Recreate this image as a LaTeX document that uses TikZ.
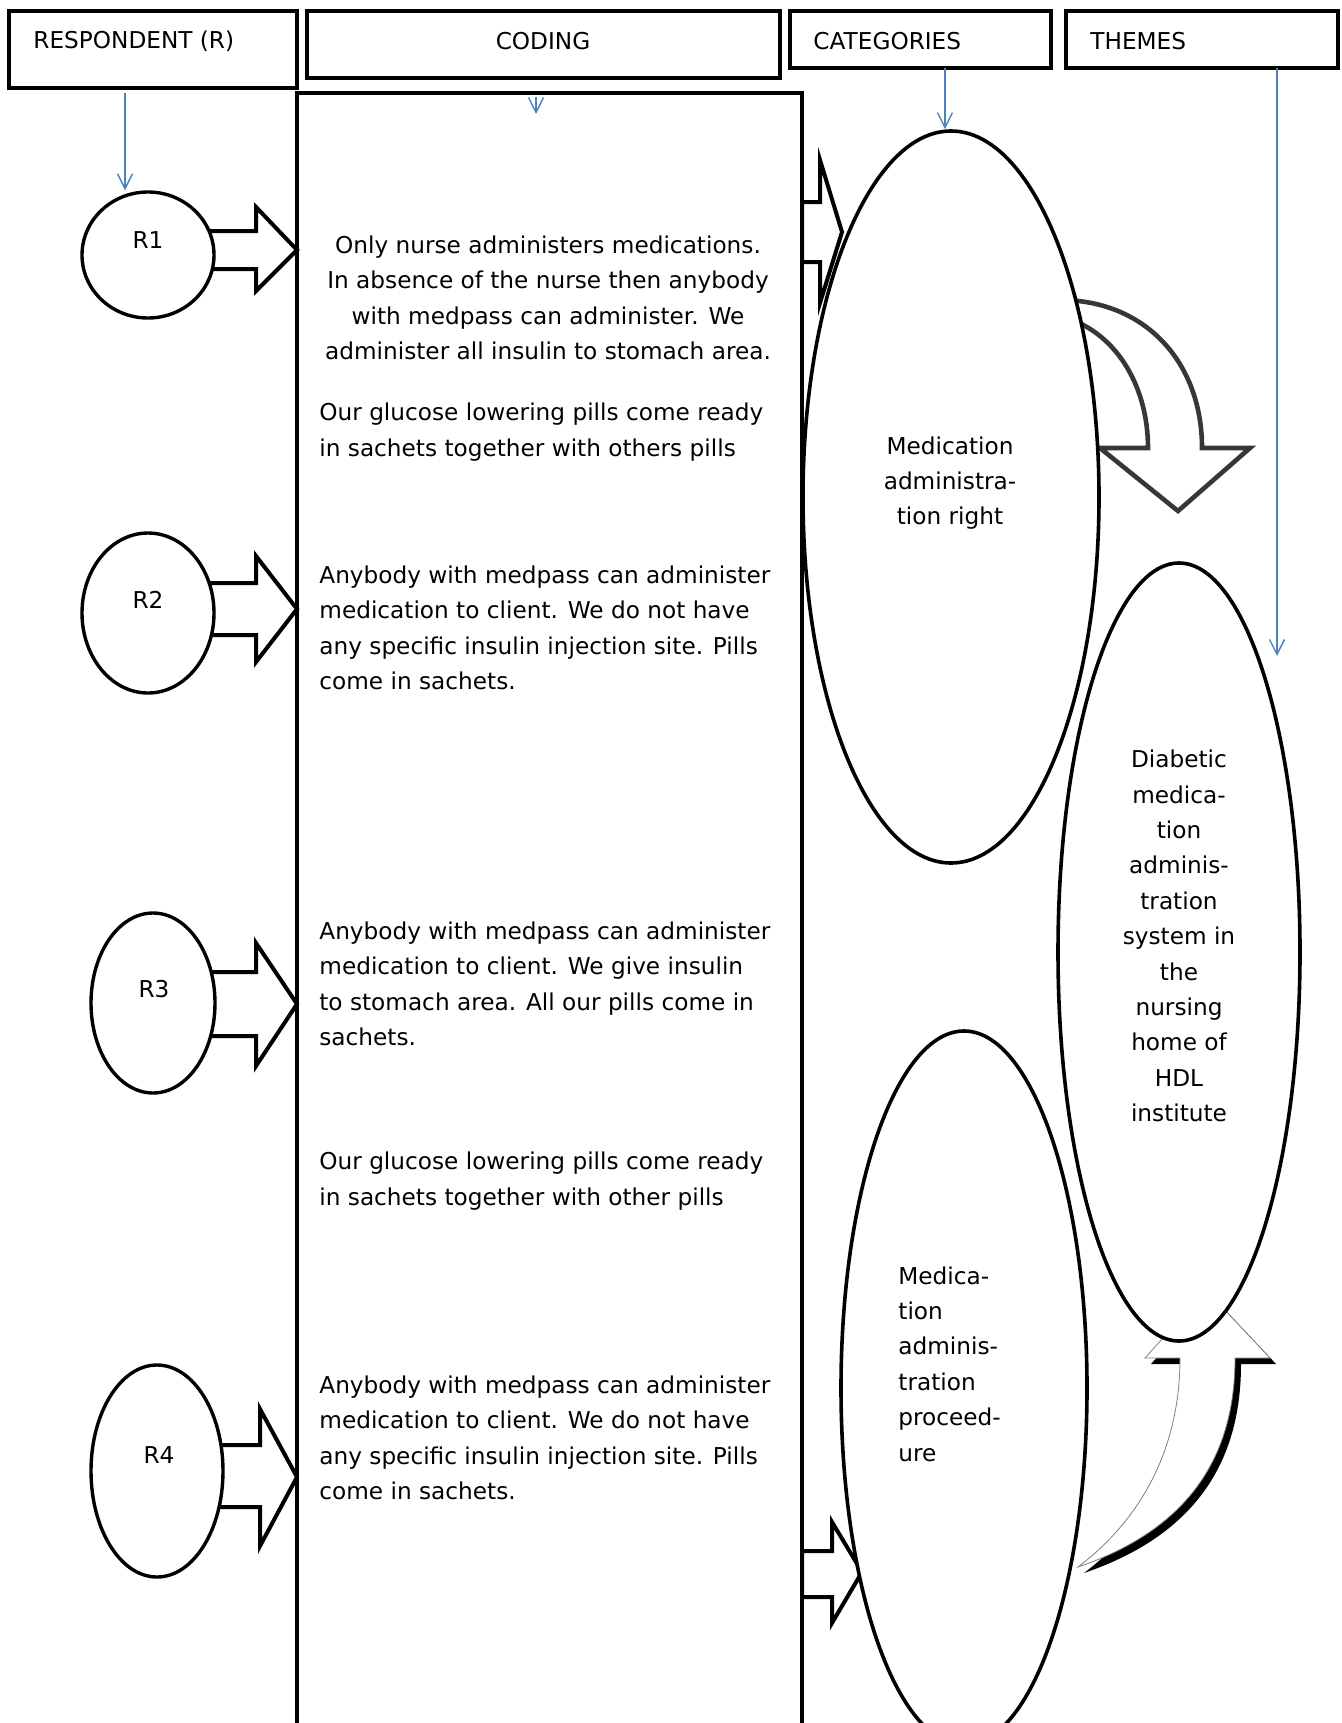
\documentclass[tikz,border=0pt]{standalone}
\usepackage{fontspec}
\setmainfont{DejaVu Sans}
\usetikzlibrary{arrows.meta, shapes.geometric}
\definecolor{linkblue}{RGB}{79,129,189}
\definecolor{darkgrey}{RGB}{55,55,55}

\begin{document}
\begin{tikzpicture}
[x=0.5pt, y=-0.5pt,
 txt/.style={inner sep=0pt, font=\fontsize{11.6}{17.7}\selectfont},
 headbox/.style={draw, line width=2pt, inner sep=0pt},
 resp/.style={ellipse, draw, line width=1.7pt, fill=white, inner sep=0pt},
 oval/.style={ellipse, draw, line width=1.8pt, fill=white, inner sep=0pt},
 blk/.style={draw, line width=2pt, fill=white, line join=miter},
 pointer/.style={draw=linkblue, line width=0.7pt, -{Straight Barb[length=7.5pt, width=7.5pt]}}]
\useasboundingbox (0,0) rectangle (1341,1723);
\clip (0,0) rectangle (1341,1723);

% header row
\node[headbox, minimum width=144pt, minimum height=38.5pt] (hresp) at (153,49.5) {};
\node[headbox, minimum width=236.5pt, minimum height=33.5pt] (hcode) at (543.5,44.5) {};
\node[headbox, minimum width=130.5pt, minimum height=28.5pt] (hcat) at (920.5,39.5) {};
\node[headbox, minimum width=136pt, minimum height=28.5pt] (htheme) at (1202,39.5) {};
\node[txt, anchor=west] (lresp) at (33,41) {RESPONDENT (R)};
\node[txt] (lcode) at (543,41) {CODING};
\node[txt, anchor=west] (lcat) at (813,41) {CATEGORIES};
\node[txt, anchor=west] (ltheme) at (1090,41) {THEMES};

% coding column
\draw[line width=1.8pt] (297,93) rectangle (802,1760);

% respondent arrows
\draw[blk] (180,231) -- (256,231) -- (256,207) -- (297,250) -- (256,291) -- (256,269) -- (180,269) -- cycle;
\draw[blk] (180,583) -- (256,583) -- (256,556) -- (297,609) -- (256,662) -- (256,635) -- (180,635) -- cycle;
\draw[blk] (190,972) -- (256,972) -- (256,943) -- (297,1004) -- (256,1066) -- (256,1036) -- (190,1036) -- cycle;
\draw[blk] (200,1445) -- (260,1445) -- (260,1409) -- (297,1477) -- (260,1546) -- (260,1507) -- (200,1507) -- cycle;

% respondents
\node[resp, minimum width=66pt, minimum height=63pt] (r1) at (148,255) {};
\node[resp, minimum width=66pt, minimum height=80pt] (r2) at (148,613) {};
\node[resp, minimum width=62pt, minimum height=90pt] (r3) at (153,1003) {};
\node[resp, minimum width=66pt, minimum height=106pt] (r4) at (157,1471) {};
\node[txt] (lr1) at (148,240) {R1};
\node[txt] (lr2) at (148,600) {R2};
\node[txt] (lr3) at (154,989) {R3};
\node[txt] (lr4) at (159,1455) {R4};

% coding to categories
\draw[blk] (802,202) -- (820,202) -- (820,160) -- (842,232) -- (820,303) -- (820,262) -- (802,262) -- cycle;
\draw[blk] (802,1551) -- (832,1551) -- (832,1522) -- (862,1572) -- (832,1623) -- (832,1597) -- (802,1597) -- cycle;

% category to theme, curved
\draw[draw=darkgrey, line width=2.3pt, fill=white, line join=miter]
  (1060,300) .. controls (1145,300) and (1202,362) .. (1202,448) -- (1250,448) -- (1178,511)
  -- (1100,448) -- (1148,448) .. controls (1148,385) and (1115,330) .. (1060,316) -- cycle;
\fill[black, shift={(6,6)}]
  (1078,1567) .. controls (1140,1520) and (1180,1450) .. (1180,1358) -- (1145,1358) -- (1206,1290)
  -- (1270,1358) -- (1235,1358) .. controls (1235,1450) and (1195,1527) .. (1078,1567) -- cycle;
\draw[draw=gray, line width=0.4pt, fill=white]
  (1078,1567) .. controls (1140,1520) and (1180,1450) .. (1180,1358) -- (1145,1358) -- (1206,1290)
  -- (1270,1358) -- (1235,1358) .. controls (1235,1450) and (1195,1527) .. (1078,1567) -- cycle;

% categories and theme
\node[oval, minimum width=148pt, minimum height=366pt] (cat1) at (951,497) {};
\node[oval, minimum width=123pt, minimum height=357pt] (cat2) at (964,1388) {};
\node[oval, minimum width=121pt, minimum height=389pt] (theme) at (1179,952) {};

% texts
\node[txt, align=center] (c1) at (548,298) {Only nurse administers medications.\\In absence of the nurse then anybody\\with medpass can administer. We\\administer all insulin to stomach area.};
\node[txt, align=left, anchor=west] (c2) at (319,432) {Our glucose lowering pills come ready\\in sachets together with others pills};
\node[txt, align=left, anchor=west] (c3) at (319,628) {Anybody with medpass can administer\\medication to client. We do not have\\any specific insulin injection site. Pills\\come in sachets.};
\node[txt, align=left, anchor=west] (c4) at (319,984) {Anybody with medpass can administer\\medication to client. We give insulin\\to stomach area. All our pills come in\\sachets.};
\node[txt, align=left, anchor=west] (c5) at (319,1181) {Our glucose lowering pills come ready\\in sachets together with other pills};
\node[txt, align=left, anchor=west] (c6) at (319,1438) {Anybody with medpass can administer\\medication to client. We do not have\\any specific insulin injection site. Pills\\come in sachets.};
\node[txt, align=center] (lcat1) at (950,483) {Medication\\administra-\\tion right};
\node[txt, align=left, anchor=west] (lcat2) at (898,1364) {Medica-\\tion\\adminis-\\tration\\proceed-\\ure};
\node[txt, align=center] (ltheme2) at (1179,936) {Diabetic\\medica-\\tion\\adminis-\\tration\\system in\\the\\nursing\\home of\\HDL\\institute};

% blue pointers
\coordinate (p1) at (125,93);
\coordinate (p2) at (536,97);
\coordinate (p3) at (945,68);
\coordinate (p4) at (1277,68);
\draw[pointer] (p1) -- (p1 |- r1.north);
\draw[pointer] (p2) -- ++(0,17);
\draw[pointer] (p3) -- (p3 |- cat1.north);
\draw[pointer] (p4) -- (1277,656);
\end{tikzpicture}
\end{document}
